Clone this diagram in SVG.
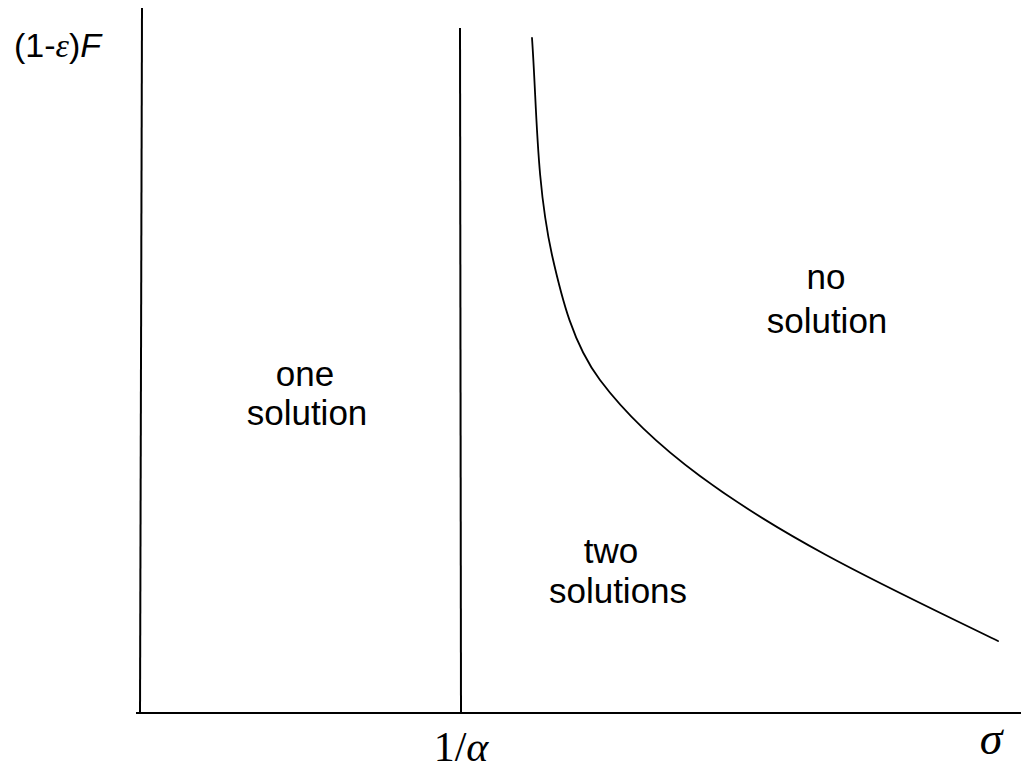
<svg xmlns="http://www.w3.org/2000/svg" width="1021" height="774" viewBox="0 0 1021 774">
<style>
.ax{stroke:#000;stroke-width:2;fill:none}
.cv{stroke:#000;stroke-width:1.8;fill:none;stroke-linejoin:round;stroke-linecap:round}
.lbl{font-family:"Liberation Sans",Arial,sans-serif;font-size:35px;fill:#000;text-anchor:middle}
.math{font-family:"Liberation Serif","Times New Roman",serif;fill:#000}
</style>
<rect width="1021" height="774" fill="#fff"/>
<g id="connectors">
<path class="ax" d="M142,8 L140,712"/>
<path class="ax" d="M136,713 L1021,713"/>
<path class="ax" d="M460,28 L461,713"/>
<path class="cv" d="M532,38 C537,110 536.2,183 552,255 C561.7,298 573,344 600,380 C627.6,416.8 663,448.6 700,476 C790.7,543.2 896.5,591.2 998,641"/>
</g>
<g id="y-label">
<text x="14" y="57" font-family="Liberation Sans,Arial,sans-serif" font-size="34">(1-<tspan font-family="Liberation Serif,serif" font-style="italic">ε</tspan>)<tspan font-style="italic">F</tspan></text>
</g>
<g id="x-tick"><text class="math" x="461" y="761" font-size="42" text-anchor="middle">1/<tspan font-style="italic">α</tspan></text></g>
<g id="x-label"><text class="math" x="991" y="754" font-size="46" font-style="italic" text-anchor="middle">σ</text></g>
<g id="one"><text class="lbl" x="305" y="386">one</text><text class="lbl" x="307" y="425">solution</text></g>
<g id="no"><text class="lbl" x="826" y="289">no</text><text class="lbl" x="827" y="333">solution</text></g>
<g id="two"><text class="lbl" x="611" y="563">two</text><text class="lbl" x="618" y="603">solutions</text></g>
</svg>
